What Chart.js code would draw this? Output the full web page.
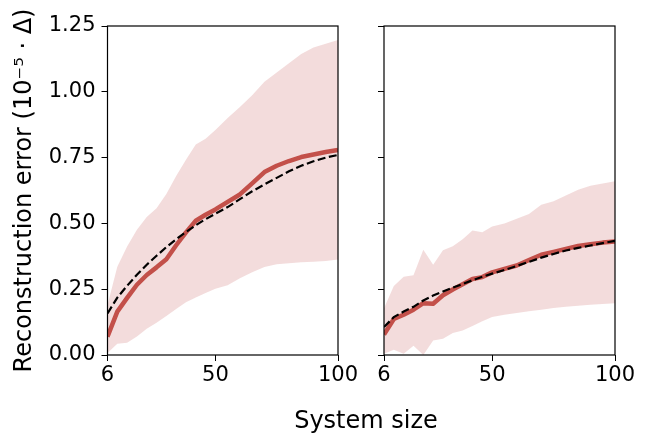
<!DOCTYPE html>
<html>
<head>
<meta charset="utf-8">
<script src="https://cdn.jsdelivr.net/npm/chart.js@4"></script>
<style>
  html, body { margin: 0; padding: 0; background: #ffffff; }
  #wrap { position: relative; width: 650px; height: 433px; overflow: hidden; }
  canvas { position: absolute; left: 0; top: 0; }
  #xtitle { position: absolute; left: 112px; width: 508px; top: 408px; text-align: center;
            font-family: "DejaVu Sans"; font-size: 24px; line-height: 24px; color: #000; }
</style>
</head>
<body>
<div id="wrap">
  <canvas id="left" width="650" height="433"></canvas>
  <canvas id="right" width="650" height="433"></canvas>
  <div id="xtitle">System size</div>
</div>
<script>
// ---- data ----
const systemSizes = [6, 10, 14, 18, 22, 26, 30, 34, 38, 42, 46, 50, 55, 60, 65, 70, 75, 80, 85, 90, 95, 100];

const meanLeft  = [0.07, 0.165, 0.217, 0.267, 0.304, 0.333, 0.364, 0.417, 0.466, 0.51, 0.533, 0.553, 0.582, 0.61, 0.652, 0.695, 0.719, 0.737, 0.752, 0.762, 0.771, 0.779];
const fitLeft   = [0.158, 0.218, 0.263, 0.305, 0.343, 0.377, 0.41, 0.44, 0.467, 0.493, 0.516, 0.537, 0.562, 0.592, 0.622, 0.648, 0.673, 0.698, 0.719, 0.736, 0.75, 0.76];
const upperLeft = [0.19, 0.335, 0.412, 0.476, 0.524, 0.558, 0.612, 0.68, 0.742, 0.8, 0.822, 0.855, 0.9, 0.942, 0.987, 1.038, 1.073, 1.108, 1.144, 1.168, 1.183, 1.197];
const lowerLeft = [0.008, 0.043, 0.047, 0.07, 0.1, 0.123, 0.148, 0.175, 0.2, 0.218, 0.236, 0.252, 0.265, 0.292, 0.314, 0.334, 0.345, 0.349, 0.352, 0.354, 0.357, 0.363];

const meanRight  = [0.078, 0.137, 0.153, 0.172, 0.197, 0.195, 0.227, 0.249, 0.269, 0.289, 0.296, 0.314, 0.327, 0.34, 0.361, 0.381, 0.392, 0.403, 0.414, 0.421, 0.427, 0.431];
const fitRight   = [0.106, 0.144, 0.165, 0.183, 0.207, 0.226, 0.241, 0.256, 0.27, 0.284, 0.297, 0.309, 0.323, 0.338, 0.354, 0.37, 0.384, 0.397, 0.407, 0.416, 0.425, 0.434];
const upperRight = [0.178, 0.262, 0.297, 0.303, 0.4, 0.343, 0.398, 0.413, 0.44, 0.473, 0.466, 0.488, 0.5, 0.518, 0.536, 0.571, 0.584, 0.606, 0.628, 0.643, 0.652, 0.66];
const lowerRight = [0.005, 0.02, 0.005, 0.035, 0.0, 0.055, 0.062, 0.084, 0.093, 0.11, 0.128, 0.144, 0.153, 0.16, 0.166, 0.172, 0.179, 0.183, 0.187, 0.191, 0.194, 0.197];

const xTickValues = [6, 50, 100];
const yTickValues = [0, 0.25, 0.5, 0.75, 1.0, 1.25];
const yTitle = "Reconstruction error (10\u207B\u2075 \u00B7 \u0394)";

// ---- styling ----
const RED = "#C3504A";
const BAND = "rgba(196, 78, 82, 0.2)";
const FONT = "DejaVu Sans";

const spines = {
  id: "spines",
  afterDatasetsDraw(chart) {
    const a = chart.chartArea, ctx = chart.ctx;
    ctx.save();
    ctx.strokeStyle = "#000";
    ctx.lineWidth = 1.2;
    ctx.strokeRect(a.left, a.top, a.right - a.left, a.bottom - a.top);
    ctx.restore();
  }
};

function pts(ys) { return systemSizes.map((x, i) => ({ x: x, y: ys[i] })); }

function makeChart(id, mean, fit, upper, lower, isLeft) {
  return new Chart(document.getElementById(id), {
    type: "line",
    data: {
      datasets: [
        { data: pts(fit), borderColor: "#000", borderWidth: 2.2, borderDash: [8, 3.5],
          pointRadius: 0, fill: false, tension: 0, clip: 0 },
        { data: pts(mean), borderColor: RED, borderWidth: 4.5, pointRadius: 0,
          fill: false, tension: 0, clip: 0, borderJoinStyle: "round", borderCapStyle: "butt" },
        { data: pts(upper), borderWidth: 0, borderColor: "rgba(0,0,0,0)", backgroundColor: BAND,
          pointRadius: 0, fill: "+1", tension: 0, clip: 0 },
        { data: pts(lower), borderWidth: 0, borderColor: "rgba(0,0,0,0)", backgroundColor: BAND,
          pointRadius: 0, fill: false, tension: 0, clip: 0 }
      ]
    },
    options: {
      responsive: false,
      animation: false,
      devicePixelRatio: 1,
      events: [],
      layout: { padding: isLeft ? { left: 0, top: 26, right: 312, bottom: 0 }
                                : { left: 364, top: 26, right: 35, bottom: 0 } },
      plugins: { legend: { display: false }, tooltip: { enabled: false } },
      scales: {
        x: {
          type: "linear", min: 6, max: 100,
          afterBuildTicks: s => { s.ticks = xTickValues.map(v => ({ value: v })); },
          afterFit: s => { s.height = 78; },
          border: { display: false },
          grid: { drawOnChartArea: false, drawTicks: true, tickLength: 6, color: "#000", lineWidth: 1 },
          ticks: { color: "#000", font: { family: FONT, size: 21 }, padding: 2, maxRotation: 0,
                   autoSkip: false, callback: v => String(v) }
        },
        y: {
          min: 0, max: 1.25,
          afterBuildTicks: s => { s.ticks = yTickValues.map(v => ({ value: v })); },
          afterFit: s => { s.width = isLeft ? 107.5 : 20; },
          border: { display: false },
          grid: { drawOnChartArea: false, drawTicks: true, tickLength: 6, color: "#000", lineWidth: 1 },
          ticks: { color: "#000", font: { family: FONT, size: 21 }, padding: 6,
                   callback: v => isLeft ? Number(v).toFixed(2) : "" },
          title: { display: isLeft, text: yTitle, color: "#000",
                   font: { family: FONT, size: 24 }, padding: { top: 10, bottom: 0 } }
        }
      }
    },
    plugins: [spines]
  });
}

makeChart("left", meanLeft, fitLeft, upperLeft, lowerLeft, true);
makeChart("right", meanRight, fitRight, upperRight, lowerRight, false);
</script>
</body>
</html>
